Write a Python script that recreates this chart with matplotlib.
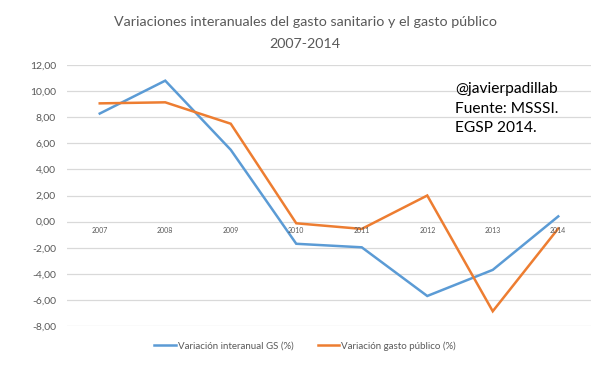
import matplotlib
matplotlib.use("Agg")
import matplotlib.pyplot as plt
from matplotlib.lines import Line2D

years = ["2007", "2008", "2009", "2010", "2011", "2012", "2013", "2014"]
gs = [8.28, 10.8, 5.5, -1.7, -1.97, -5.7, -3.7, 0.4]
gp = [9.06, 9.14, 7.5, -0.13, -0.56, 2.0, -6.87, -0.53]
yticks = [-8, -6, -4, -2, 0, 2, 4, 6, 8, 10, 12]

plt.rcParams['font.family'] = ['Lato', 'DejaVu Sans']

W, H = 613, 381
fig = plt.figure(figsize=(W/100, H/100), dpi=100)
ax = fig.add_axes([67/W, (H-326)/H, (591-67)/W, (326-65)/H])

blue = "#5b9bd5"
orange = "#ed7d31"
x = list(range(len(years)))
ax.plot(x, gs, color=blue, lw=1.8, solid_joinstyle='miter', label="Variación interanual GS (%)")
ax.plot(x, gp, color=orange, lw=1.8, solid_joinstyle='miter', label="Variación gasto público (%)")

ax.set_xlim(-0.5, len(years)-0.5)
ax.set_ylim(-8, 12)
ax.set_yticks(yticks)
ax.set_yticklabels([f"{v:.2f}".replace(".", ",") for v in yticks], fontsize=7.5, color="#595959")
ax.grid(axis='y', color="#d9d9d9", lw=0.9)
ax.set_axisbelow(True)
ax.tick_params(axis='y', length=0, pad=8)
ax.set_xticks([])
for s in ax.spines.values():
    s.set_visible(False)
for i, yl in enumerate(years):
    ax.text(i, -0.7, yl, ha='center', va='center', fontsize=5, color="#595959")

fig.text(305/W, 1-22/H, "Variaciones interanuales del gasto sanitario y el gasto público", ha='center', va='center', fontsize=10.3, color="#595959")
fig.text(305/W, 1-44/H, "2007-2014", ha='center', va='center', fontsize=10.3, color="#595959")

fig.text(455/W, 1-109/H, "@javierpadillab\nFuente: MSSSI.\nEGSP 2014.", ha='left', va='center', fontsize=11.2,
         color="black", linespacing=1.5)

handles = [Line2D([], [], color=blue, lw=1.8), Line2D([], [], color=orange, lw=1.8)]
leg = fig.legend(handles, ["Variación interanual GS (%)", "Variación gasto público (%)"],
                 loc='center', bbox_to_anchor=(305/W, 1-346/H), ncol=2, frameon=False,
                 fontsize=7, handlelength=2.2, handletextpad=0.2, columnspacing=2.5)
for t in leg.get_texts():
    t.set_color("#595959")

fig.savefig("out.png", dpi=100)
